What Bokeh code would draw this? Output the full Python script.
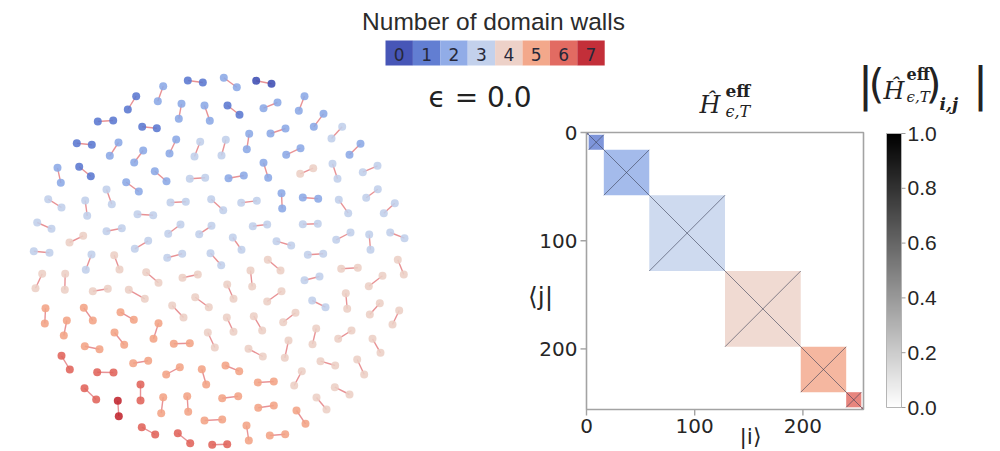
import numpy as np
from bokeh.plotting import figure
from bokeh.models import Range1d, LinearColorMapper
from bokeh.core.properties import value
from bokeh.embed import file_html
from bokeh.resources import INLINE
from bokeh.palettes import Greys256

# ---------------- data ----------------
wall_counts = [0, 1, 2, 3, 4, 5, 6, 7]
wall_colors = ["#3d4db3", "#5a77d0", "#8ba8e6", "#c0cfeb",
               "#eccfc5", "#f2a385", "#e0635a", "#c0242e"]

# dumbbells of the state graph: two end nodes and their number of domain walls
pair_x1 = [187.3, 223.3, 255.7, 162.7, 135.7, 181, 204, 227, 263, 304, 97.3, 141.7, 323, 270, 341.7,
           76.3, 118, 142.7, 175.7, 199.7, 225.3, 248.7, 300, 360, 57, 78.7, 154.3, 189.3, 228, 263,
           299.7, 332, 362.3, 125.7, 106, 47.7, 84.7, 170, 210.7, 240.7, 281, 302.3, 338.3, 365.7, 394.3,
           137, 36.7, 69, 106, 167.7, 198.7, 232.3, 252.3, 302.3, 335.7, 368.7, 389.7, 134.3, 276, 33.3,
           91, 113.7, 166.7, 210, 267.3, 307.3, 397.3, 340.7, 41.7, 64.7, 92.3, 145.7, 182, 250, 304,
           368.3, 128.3, 226.7, 266.7, 194.7, 311.7, 345.3, 45, 83.3, 120, 171.7, 379.3, 398.7, 66.3, 158,
           226.3, 253.3, 295, 315.7, 351, 114, 173.3, 207.3, 288, 372, 84.3, 248, 61, 132.7, 320,
           356.7, 96.7, 165.7, 201.3, 225, 301.3, 257.3, 334.3, 84, 140, 117.3, 162.7, 186.7, 221.7, 316,
           257.7, 296, 204, 141.3, 177.3, 211.7, 246, 269.3]
pair_y1 = [80, 77.3, 80.3, 85.7, 95.7, 103.3, 105, 105, 107.7, 95.7, 121, 126.3, 113.3, 133, 126.3,
           142.7, 142, 150, 139, 141.3, 139.3, 133.3, 147.7, 143.3, 167.3, 166.3, 170.7, 178.3, 177.7, 162.3,
           173.3, 163.3, 171.7, 181.7, 189, 198.7, 200, 202, 198.7, 202.3, 192.7, 197, 199.3, 197.3, 202.7,
           213.7, 222, 242, 230.7, 233.3, 233.7, 237, 225.7, 223.7, 239.3, 234, 232, 248.3, 240.7, 250.7,
           254, 254.7, 257.3, 252.7, 259.3, 254.3, 259.3, 268.3, 273.3, 273.3, 290.7, 271.7, 277.3, 270, 279.7,
           285.7, 289.3, 284, 301, 296.7, 300, 292.7, 307.7, 307.3, 311.7, 305, 302.7, 310, 320, 322.7,
           317, 315.7, 312.3, 328, 330, 332, 343.3, 332, 340, 338.3, 345.7, 348.3, 355.3, 362.7, 360.7,
           359, 371.7, 374, 368.7, 365, 370.7, 382, 386.7, 387.7, 384, 400.3, 396.7, 395.7, 397.7, 397,
           407.3, 410, 420, 426.7, 432.7, 444.3, 425, 435]
pair_x2 = [202.3, 236.3, 271, 157.3, 127.3, 178.3, 209.3, 239, 277, 298.3, 112.7, 156.3, 313.3, 285, 331,
           91.3, 109.3, 133.7, 169, 194, 221, 246.3, 285.7, 349, 60.3, 90.3, 166, 204.7, 243.3, 267.7,
           312.7, 337, 377, 138.3, 111.3, 61, 86.7, 185.3, 222.7, 256.3, 281.7, 317.7, 347.7, 377.3, 383.3,
           152.7, 51, 82.7, 121.3, 180, 211, 241, 266.7, 317.3, 350, 370, 404, 147.7, 290.7, 49,
           85.3, 119, 181.7, 220.7, 280, 322.7, 403.3, 357.3, 35, 64.3, 107.3, 158, 197.3, 251.7, 319,
           382, 144.3, 233, 281, 208.3, 325, 346.7, 44.3, 92.3, 133.3, 183, 369.3, 392, 63.3, 153,
           233, 261.7, 282.7, 312, 337.7, 123.7, 189.3, 214.3, 284.3, 380, 99, 262.3, 69.3, 147.7, 334.7,
           363.7, 113, 179.3, 205.7, 238.7, 293.7, 273.3, 349, 95.7, 140, 118.3, 160.7, 187.7, 237.7, 326,
           273.3, 305, 221.7, 154.7, 189.7, 226.7, 248.3, 284.7]
pair_y2 = [82, 86.7, 83.3, 100.7, 109, 118.3, 120.3, 114.3, 102, 110.3, 120, 127.7, 126.3, 128, 138,
           144.3, 155.3, 162, 153, 156, 155, 148.7, 154.3, 154.3, 182.3, 175.7, 180.7, 177.3, 175, 177.3,
           167.7, 178.3, 165.3, 191, 203.7, 207, 215.3, 201.3, 209.7, 200.3, 208, 198.3, 212.7, 188.7, 212.7,
           214.7, 228.3, 235.3, 227.7, 224, 225.3, 249.3, 224, 223.3, 232, 249.3, 237.7, 240.3, 245, 252.3,
           269.3, 269, 253.3, 264.7, 270, 253.3, 274, 267.3, 287.7, 289.3, 288.3, 282.3, 274, 286, 276,
           275.3, 298.3, 298.3, 290.7, 306.7, 306.7, 308.3, 323, 320, 319.3, 317, 314, 324, 335, 338.3,
           331.3, 330, 321.7, 343.7, 338.3, 344.3, 342.7, 347, 357.3, 352.3, 348.7, 356, 369, 360.3, 365,
           374, 372, 366.7, 384, 370.7, 385, 381, 394, 399, 400, 415.7, 412.7, 411.3, 395.7, 409,
           405, 423.3, 419, 434, 442.7, 443.7, 440, 433.7]
pair_walls = [1, 2, 0, 2, 1, 2, 2, 1, 2, 2, 1, 1, 2, 2, 3,
              1, 2, 2, 2, 3, 3, 2, 2, 2, 2, 1, 2, 3, 2, 2,
              4, 3, 3, 2, 3, 3, 3, 3, 3, 3, 2, 2, 3, 3, 3,
              3, 3, 4, 3, 3, 3, 3, 3, 3, 3, 3, 3, 3, 3, 3,
              3, 4, 3, 3, 4, 3, 4, 4, 4, 4, 4, 4, 4, 4, 3,
              4, 4, 4, 4, 4, 3, 4, 5, 5, 5, 4, 4, 4, 5, 5,
              4, 4, 4, 4, 4, 5, 5, 4, 4, 4, 5, 4, 6, 5, 4,
              4, 6, 5, 5, 5, 4, 5, 4, 6, 6, 7, 5, 5, 5, 4,
              5, 5, 5, 6, 6, 6, 5, 5]

# block-diagonal effective Hamiltonian: sectors of equal domain-wall number
block_start = [0, 2, 16, 58, 128, 198, 240, 254]
block_size = [2, 14, 42, 70, 70, 42, 14, 2]
block_walls = [0, 1, 2, 3, 4, 5, 6, 7]
matrix_dim = 256
matrix_ticks = [0, 100, 200]
matrix_tick_labels = ["0", "100", "200"]

cbar_ticks = [0.0, 0.2, 0.4, 0.6, 0.8, 1.0]
cbar_tick_labels = ["0.0", "0.2", "0.4", "0.6", "0.8", "1.0"]
epsilon_value = 0.0

# ---------------- figure (page pixel coordinates) ----------------
W, H = 998, 449
p = figure(width=W, height=H, x_range=Range1d(0, W), y_range=Range1d(H, 0),
           output_backend="svg", toolbar_location=None, min_border=0)
p.axis.visible = False
p.grid.visible = False
p.outline_line_color = None
p.min_border_left = p.min_border_right = p.min_border_top = p.min_border_bottom = 0

# matrix panel ranges: frame from x 586..863, y 132..409
FX0, FX1, FY0, FY1 = 586, 863, 132, 409
k = matrix_dim / (FX1 - FX0)
p.extra_x_ranges = {"mx": Range1d(0 - FX0 * k, matrix_dim + (W - FX1) * k)}
ky = matrix_dim / (FY1 - FY0)
# gray colour bar: value 0 at y 407, 1 at y 133
CB0, CB1 = 407, 133
kv = 1.0 / (CB0 - CB1)
p.extra_y_ranges = {
    "my": Range1d(start=matrix_dim + (H - FY1) * ky, end=-FY0 * ky),
    "cy": Range1d(start=-(H - CB0) * kv, end=1 + CB1 * kv),
}

TXT = "#222222"

def label(x, y, s, size, font="DejaVu Sans", style="normal", align="left", color=TXT):
    p.text(x=[x], y=[y], text=[s], text_font=value(font), text_font_style=style,
           text_font_size=size, text_color=color, text_align=align, text_baseline="middle")

# ---------------- state graph ----------------
p.segment(x0=pair_x1, y0=pair_y1, x1=pair_x2, y1=pair_y2,
          line_color="#e47f82", line_width=1.4, line_alpha=0.85)
node_cols = [wall_colors[c] for c in pair_walls]
p.scatter(x=pair_x1 + pair_x2, y=pair_y1 + pair_y2, size=8,
          fill_color=node_cols + node_cols, fill_alpha=0.88, line_color=None)

# ---------------- discrete colour bar ----------------
bx0, bw, by0, by1 = 385, 27.4, 40, 65
box_x = [bx0 + (c + 0.5) * bw for c in wall_counts]
p.rect(x=box_x, y=(by0 + by1) / 2, width=bw, height=by1 - by0,
       fill_color=wall_colors, fill_alpha=0.95, line_color=None)
p.text(x=box_x, y=(by0 + by1) / 2 + 1, text=[str(c) for c in wall_counts],
       text_font=value("DejaVu Sans"), text_font_size="17px", text_color="#26283a",
       text_align="center", text_baseline="middle")
label(493, 21, "Number of domain walls", "24.5px", font="Liberation Sans", align="center", color="#2b2b2b")

label(428, 97, "ϵ = %.1f" % epsilon_value, "28px")

# ---------------- matrix panel ----------------
bl = [s for s in block_start]
br = [s + n for s, n in zip(block_start, block_size)]
p.quad(left=bl, right=br, top=bl, bottom=br, x_range_name="mx", y_range_name="my",
       fill_color=[wall_colors[w] for w in block_walls], fill_alpha=0.78, line_color=None)
# non-zero matrix elements: diagonal and anti-diagonal inside each sector
p.segment(x0=bl + bl, y0=bl + br, x1=br + br, y1=br + bl, x_range_name="mx", y_range_name="my",
          line_color="#3b3f55", line_alpha=0.6, line_width=1)
p.quad(left=[0], right=[matrix_dim], top=[0], bottom=[matrix_dim], x_range_name="mx", y_range_name="my",
       fill_color=None, line_color="#a3a3a3", line_width=1.6)
# y ticks
p.segment(x0=[FX0 - 6] * 3, x1=[FX0] * 3, y0=matrix_ticks, y1=matrix_ticks, y_range_name="my",
          line_color="#a3a3a3", line_width=1.4)
p.text(x=[FX0 - 9] * 3, y=matrix_ticks, text=matrix_tick_labels, y_range_name="my",
       text_font=value("DejaVu Sans"), text_font_size="20px", text_color="#262626",
       text_align="right", text_baseline="middle")
# x ticks
p.segment(x0=matrix_ticks, x1=matrix_ticks, y0=[FY1] * 3, y1=[FY1 + 6] * 3, x_range_name="mx",
          line_color="#a3a3a3", line_width=1.4)
p.text(x=matrix_ticks, y=[FY1 + 9] * 3, text=matrix_tick_labels, x_range_name="mx",
       text_font=value("DejaVu Sans"), text_font_size="20px", text_color="#262626",
       text_align="center", text_baseline="top")
label(540, 296, "⟨j|", "25px", align="center", color="#262626")
label(750, 436, "|i⟩", "22px", align="center", color="#262626")

# title  H^eff_{eps,T}
label(699, 104, "Ĥ", "24px", font="DejaVu Serif", style="italic")
label(725, 90, "eff", "17px", font="DejaVu Serif", style="bold")
label(725, 111, "ϵ,T", "16px", font="DejaVu Serif", style="italic")

# ---------------- gray colour bar ----------------
grays = list(reversed(Greys256))
mapper = LinearColorMapper(palette=grays, low=0, high=1)
p.image(image=[np.linspace(0, 1, 256).reshape(256, 1)], x=886, y=0, dw=15, dh=1,
        color_mapper=mapper, y_range_name="cy")
p.quad(left=[886], right=[901], bottom=[0], top=[1], y_range_name="cy",
       fill_color=None, line_color="#b5b5b5", line_width=1)
p.segment(x0=[901] * 6, x1=[905] * 6, y0=cbar_ticks, y1=cbar_ticks, y_range_name="cy",
          line_color="#9a9a9a", line_width=1)
p.text(x=[907] * 6, y=cbar_ticks, text=cbar_tick_labels, y_range_name="cy",
       text_font=value("Liberation Sans"), text_font_size="21px", text_color="#262626",
       text_align="left", text_baseline="middle")
# label |(H^eff_{eps,T})_{i,j}|
label(865, 83, "|", "46px", align="center")
label(980, 83, "|", "46px", align="center")
label(876, 83, "(", "40px", align="center")
label(933, 83, ")", "40px", align="center")
label(883, 90, "Ĥ", "24px", font="DejaVu Serif", style="italic")
label(906, 74, "eff", "16px", font="DejaVu Serif", style="bold")
label(906, 96, "ϵ,T", "15px", font="DejaVu Serif", style="italic")
label(939, 103, "i,j", "17px", font="DejaVu Serif", style="bold italic")

open("out.html", "w").write(file_html(p, INLINE))
